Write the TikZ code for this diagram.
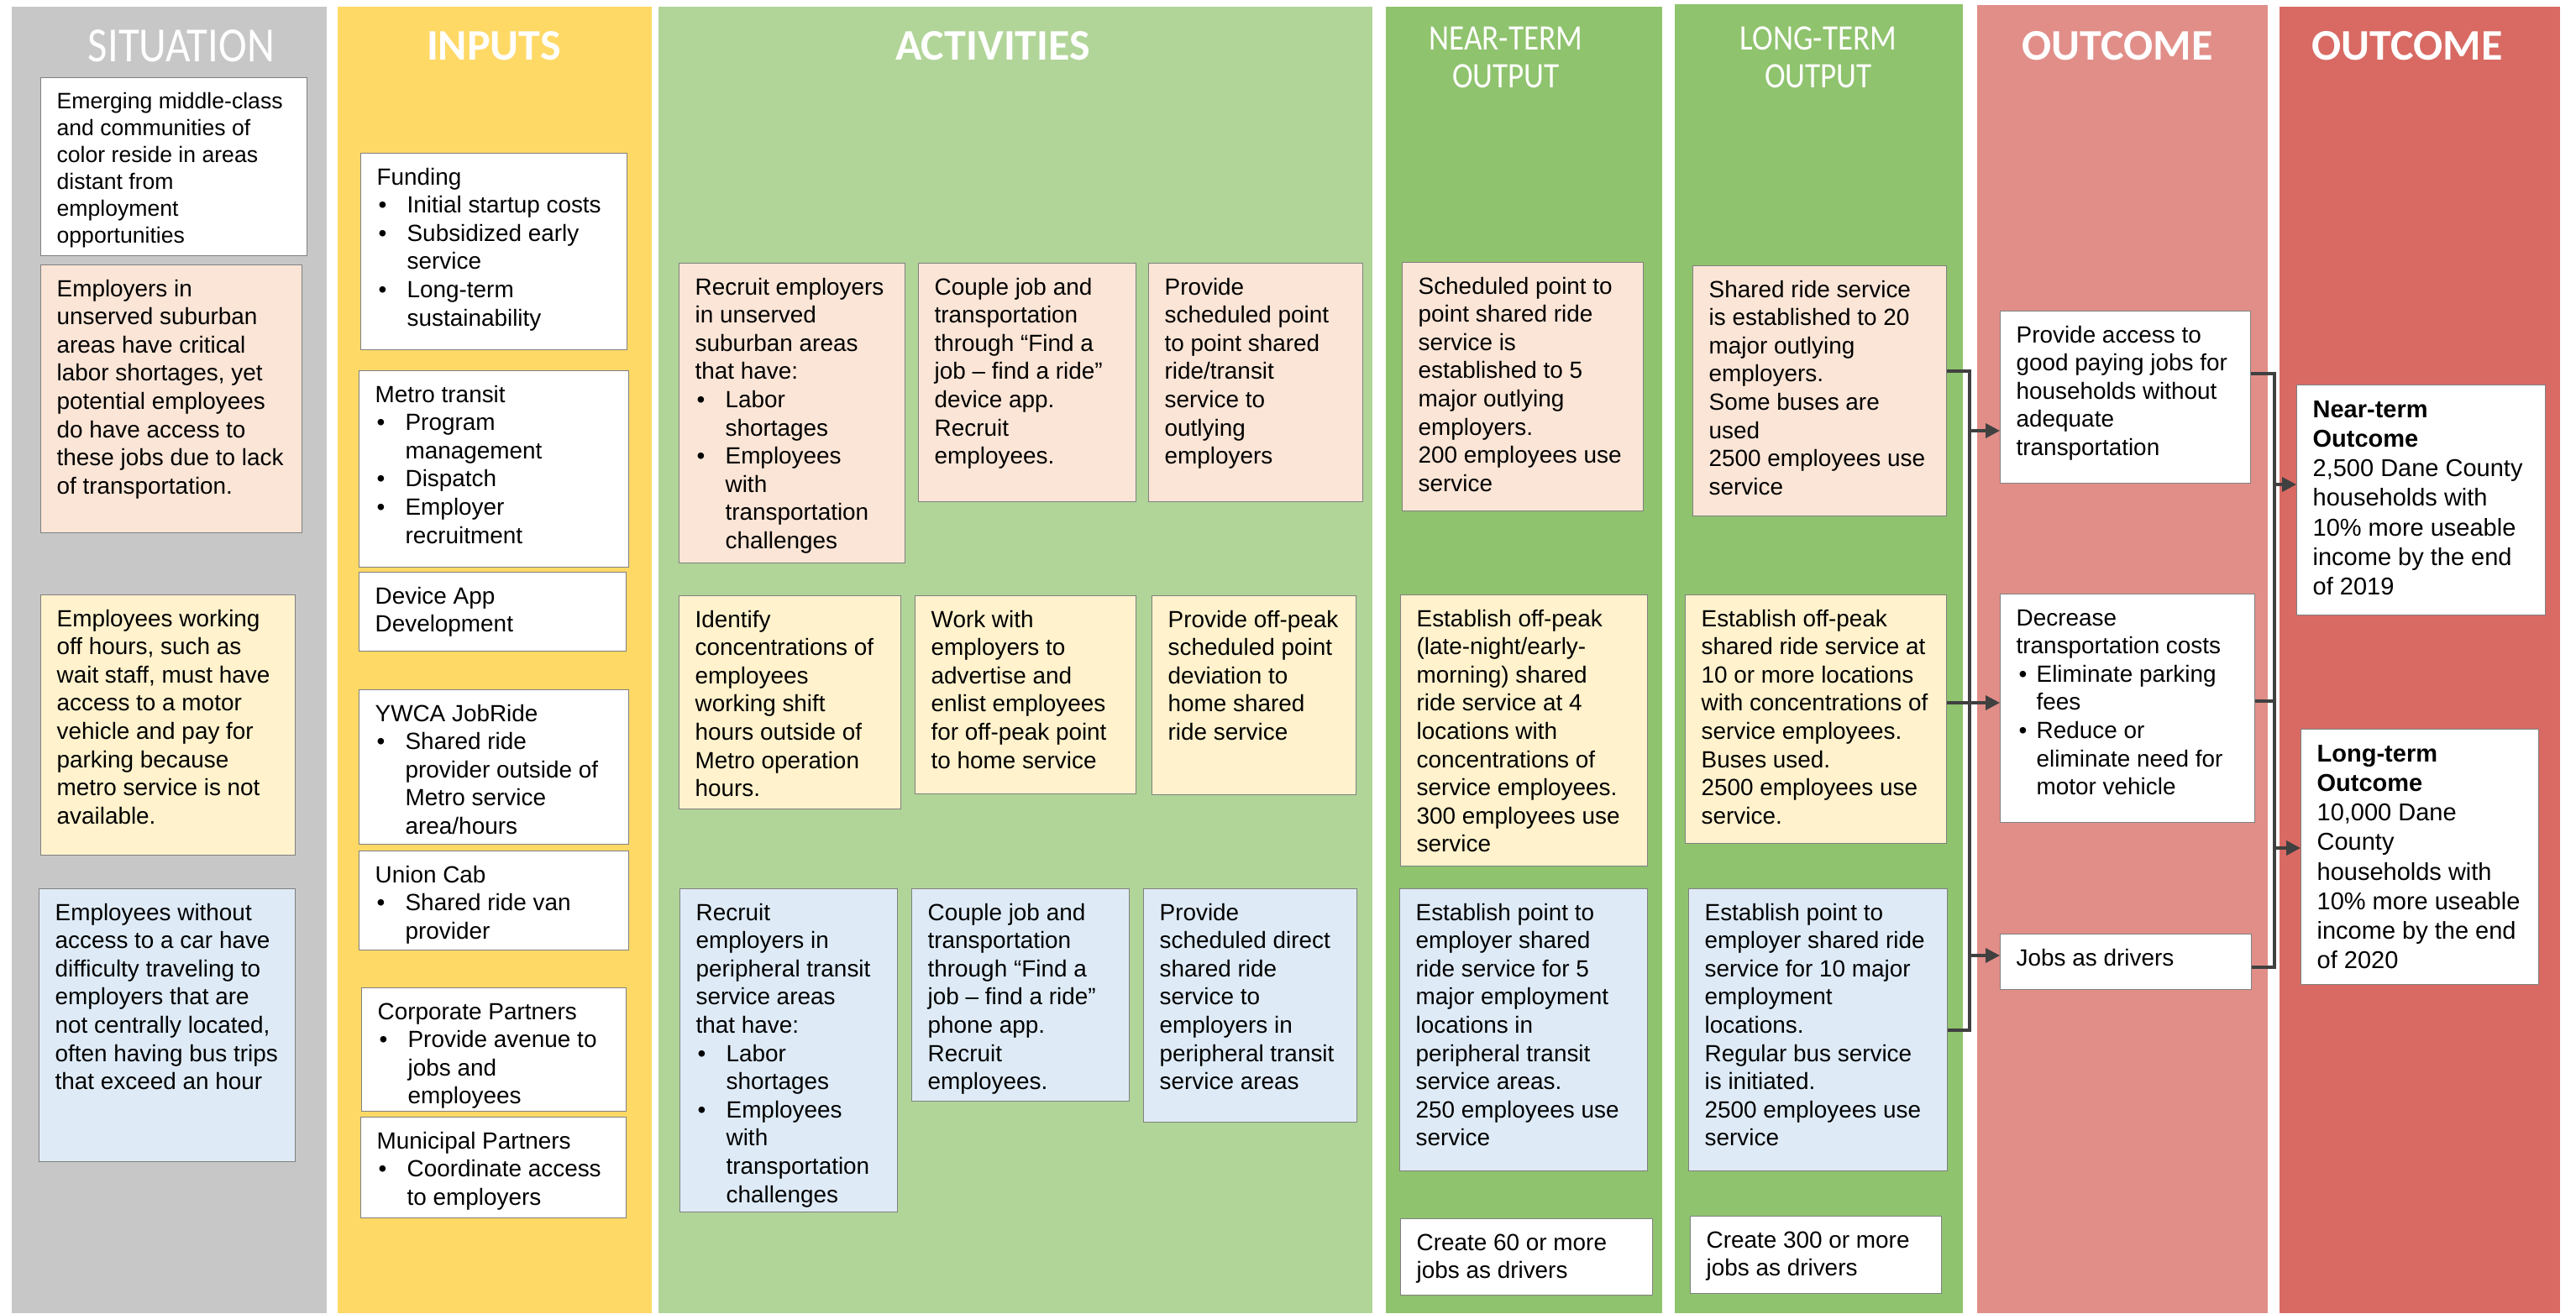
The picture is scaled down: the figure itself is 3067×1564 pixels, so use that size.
\documentclass[tikz,border=0pt]{standalone}
\usepackage{fontspec}
\setmainfont{Liberation Sans}
\newfontfamily\ttlfont{Carlito}
\newfontfamily\condfont{Carlito}[FakeStretch=0.87]
\usetikzlibrary{arrows.meta}
\definecolor{colgray}{RGB}{199,199,199}
\definecolor{colyel}{RGB}{255,217,102}
\definecolor{colact}{RGB}{177,213,152}
\definecolor{colout}{RGB}{143,195,110}
\definecolor{coloca}{RGB}{225,142,137}
\definecolor{colocb}{RGB}{216,106,99}
\definecolor{peach}{RGB}{251,229,214}
\definecolor{ltyel}{RGB}{255,242,204}
\definecolor{ltblue}{RGB}{222,235,247}
\definecolor{boxline}{RGB}{128,128,128}
\definecolor{linegray}{RGB}{64,64,64}
\newcommand{\bodyfont}{\fontsize{27.9}{33.6}\selectfont}
\newcommand{\sitfont}{\fontsize{26.6}{32}\selectfont}
\newcommand{\bigfont}{\fontsize{29}{35.2}\selectfont}
\newcommand{\bu}[1]{\makebox[36pt][l]{\hspace{2pt}\textbullet}#1}
\newcommand{\cnt}[1]{\hspace*{36pt}#1}
\newcommand{\bux}[1]{\makebox[24pt][l]{\hspace{3pt}\textbullet}#1}
\newcommand{\cntx}[1]{\hspace*{24pt}#1}
\newcommand{\Bx}[7]{%
  \pgfmathsetmacro{\bw}{#5-#3-38}%
  \pgfmathsetmacro{\bh}{#6-#4-28}%
  \node[bx,#2] (#1) at (#3,#4) {\parbox[t][\bh pt][t]{\bw pt}{\begin{tabular}[t]{@{}l@{}}#7\end{tabular}}};%
}
\tikzset{
  bx/.style={draw=boxline, line width=1.3pt, inner xsep=19pt, inner ysep=14pt, anchor=north west, font=\bodyfont, text=black},
  ttlb/.style={text=white, anchor=base, inner sep=0pt, font=\ttlfont\bfseries\fontsize{52}{56}\selectfont},
  ttlc/.style={text=white, anchor=base, inner sep=0pt, font=\condfont\fontsize{58.5}{60}\selectfont},
  ttls/.style={text=white, anchor=base, inner sep=0pt, font=\condfont\fontsize{42.7}{45}\selectfont},
  conn/.style={draw=linegray, line width=3.6pt},
  arr/.style={conn, -{Triangle[length=17pt,width=17pt]}},
}
\begin{document}
\begin{tikzpicture}[x=1pt,y=-1pt]
\useasboundingbox (0,0) rectangle (3067,1564);
\fill[white] (0,0) rectangle (3067,1564);
% columns
\fill[colgray] (14,8) rectangle (389,1564);
\fill[colyel] (402,8) rectangle (776,1564);
\fill[colact] (784,8) rectangle (1634,1564);
\fill[colout] (1650,8) rectangle (1979,1564);
\fill[colout] (1994,5) rectangle (2337,1564);
\fill[coloca] (2354,6) rectangle (2700,1564);
\fill[colocb] (2714,8) rectangle (3048,1564);
% titles
\node[ttlc] (tsit) at (216,73) {SITUATION};
\node[ttlb] (tin) at (588,71) {INPUTS};
\node[ttlb] (tact) at (1182,71) {ACTIVITIES};
\node[ttls] (tnear1) at (1793,59) {NEAR-TERM};
\node[ttls] (tnear2) at (1793,104) {OUTPUT};
\node[ttls] (tlong1) at (2165,59) {LONG-TERM};
\node[ttls] (tlong2) at (2165,104) {OUTPUT};
\node[ttlb] (toc1) at (2521,71) {OUTCOME};
\node[ttlb] (toc2) at (2866,71) {OUTCOME};
% situation
\Bx{S1}{fill=white,font=\sitfont}{48}{92}{365}{304}{Emerging middle-class\\and communities of\\color reside in areas\\distant from\\employment\\opportunities}
\Bx{S2}{fill=peach}{48}{315}{359}{634}{Employers in\\unserved suburban\\areas have critical\\labor shortages, yet\\potential employees\\do have access to\\these jobs due to lack\\of transportation.}
\Bx{S3}{fill=ltyel}{48}{708}{351}{1018}{Employees working\\off hours, such as\\wait staff, must have\\access to a motor\\vehicle and pay for\\parking because\\metro service is not\\available.}
\Bx{S4}{fill=ltblue}{46}{1058}{351}{1383}{Employees without\\access to a car have\\difficulty traveling to\\employers that are\\not centrally located,\\often having bus trips\\that exceed an hour}
% inputs
\Bx{I1}{fill=white}{429}{182}{746}{416}{Funding\\\bu{Initial startup costs}\\\bu{Subsidized early}\\\cnt{service}\\\bu{Long-term}\\\cnt{sustainability}}
\Bx{I2}{fill=white}{427}{441}{748}{675}{Metro transit\\\bu{Program}\\\cnt{management}\\\bu{Dispatch}\\\bu{Employer}\\\cnt{recruitment}}
\Bx{I3}{fill=white}{427}{681}{745}{775}{Device App\\Development}
\Bx{I4}{fill=white}{427}{821}{748}{1005}{YWCA JobRide\\\bu{Shared ride}\\\cnt{provider outside of}\\\cnt{Metro service}\\\cnt{area/hours}}
\Bx{I5}{fill=white}{427}{1013}{748}{1131}{Union Cab\\\bu{Shared ride van}\\\cnt{provider}}
\Bx{I6}{fill=white}{430}{1176}{745}{1323}{Corporate Partners\\\bu{Provide avenue to}\\\cnt{jobs and}\\\cnt{employees}}
\Bx{I7}{fill=white}{429}{1330}{745}{1450}{Municipal Partners\\\bu{Coordinate access}\\\cnt{to employers}}
% activities
\Bx{A1}{fill=peach}{808}{313}{1077}{670}{Recruit employers\\in unserved\\suburban areas\\that have:\\\bu{Labor}\\\cnt{shortages}\\\bu{Employees}\\\cnt{with}\\\cnt{transportation}\\\cnt{challenges}}
\Bx{A2}{fill=peach}{1093}{313}{1352}{597}{Couple job and\\transportation\\through “Find a\\job – find a ride”\\device app.\\Recruit\\employees.}
\Bx{A3}{fill=peach}{1367}{313}{1622}{597}{Provide\\scheduled point\\to point shared\\ride/transit\\service to\\outlying\\employers}
\Bx{A4}{fill=ltyel}{808}{709}{1072}{963}{Identify\\concentrations of\\employees\\working shift\\hours outside of\\Metro operation\\hours.}
\Bx{A5}{fill=ltyel}{1089}{709}{1352}{945}{Work with\\employers to\\advertise and\\enlist employees\\for off-peak point\\to home service}
\Bx{A6}{fill=ltyel}{1371}{709}{1614}{946}{Provide off-peak\\scheduled point\\deviation to\\home shared\\ride service}
\Bx{A7}{fill=ltblue}{809}{1058}{1068}{1443}{Recruit\\employers in\\peripheral transit\\service areas\\that have:\\\bu{Labor}\\\cnt{shortages}\\\bu{Employees}\\\cnt{with}\\\cnt{transportation}\\\cnt{challenges}}
\Bx{A8}{fill=ltblue}{1085}{1058}{1344}{1311}{Couple job and\\transportation\\through “Find a\\job – find a ride”\\phone app.\\Recruit\\employees.}
\Bx{A9}{fill=ltblue}{1361}{1058}{1615}{1336}{Provide\\scheduled direct\\shared ride\\service to\\employers in\\peripheral transit\\service areas}
% near-term output
\Bx{N1}{fill=peach}{1669}{312}{1956}{608}{Scheduled point to\\point shared ride\\service is\\established to 5\\major outlying\\employers.\\200 employees use\\service}
\Bx{N2}{fill=ltyel}{1667}{708}{1961}{1031}{Establish off-peak\\(late-night/early-\\morning) shared\\ride service at 4\\locations with\\concentrations of\\service employees.\\300 employees use\\service}
\Bx{N3}{fill=ltblue}{1666}{1058}{1961}{1394}{Establish point to\\employer shared\\ride service for 5\\major employment\\locations in\\peripheral transit\\service areas.\\250 employees use\\service}
\Bx{N4}{fill=white}{1667}{1451}{1967}{1542}{Create 60 or more\\jobs as drivers}
% long-term output
\Bx{L1}{fill=peach}{2015}{316}{2317}{614}{Shared ride service\\is established to 20\\major outlying\\employers.\\Some buses are\\used\\2500 employees use\\service}
\Bx{L2}{fill=ltyel}{2006}{708}{2317}{1004}{Establish off-peak\\shared ride service at\\10 or more locations\\with concentrations of\\service employees.\\Buses used.\\2500 employees use\\service.}
\Bx{L3}{fill=ltblue}{2010}{1058}{2318}{1394}{Establish point to\\employer shared ride\\service for 10 major\\employment\\locations.\\Regular bus service\\is initiated.\\2500 employees use\\service}
\Bx{L4}{fill=white}{2012}{1448}{2311}{1540}{Create 300 or more\\jobs as drivers}
% outcome 1
\Bx{O1}{fill=white}{2381}{370}{2679}{575}{Provide access to\\good paying jobs for\\households without\\adequate\\transportation}
\Bx{O2}{fill=white}{2381}{707}{2684}{979}{Decrease\\transportation costs\\\bux{Eliminate parking}\\\cntx{fees}\\\bux{Reduce or}\\\cntx{eliminate need for}\\\cntx{motor vehicle}}
\Bx{O3}{fill=white}{2381}{1112}{2680}{1178}{Jobs as drivers}
% outcome 2
\Bx{R1}{fill=white,font=\bigfont}{2734}{458}{3030}{732}{\textbf{Near-term}\\\textbf{Outcome}\\2,500 Dane County\\households with\\10\% more useable\\income by the end\\of 2019}
\Bx{R2}{fill=white,font=\bigfont}{2739}{868}{3022}{1172}{\textbf{Long-term}\\\textbf{Outcome}\\10,000 Dane\\County\\households with\\10\% more useable\\income by the end\\of 2020}
% connectors: long-term outputs to outcomes
\coordinate (k1t) at (2345,442);
\coordinate (k1b) at (2345,1227);
\coordinate (k1a) at (2345,513);
\coordinate (k1m) at (2345,837);
\coordinate (k1c) at (2345,1138);
\draw[conn] (L1.east |- k1t) -- (k1t) -- (k1b) -- (L3.east |- k1b);
\draw[arr] (k1a) -- (k1a -| O1.west);
\draw[arr] (L2.east |- k1m) -- (k1m -| O2.west);
\draw[arr] (k1c) -- (k1c -| O3.west);
% connectors: outcomes to final outcomes
\coordinate (k2t) at (2708,445);
\coordinate (k2b) at (2708,1152);
\coordinate (k2m) at (2708,835);
\coordinate (k2a) at (2708,577);
\coordinate (k2c) at (2708,1010);
\draw[conn] (O1.east |- k2t) -- (k2t) -- (k2b) -- (O3.east |- k2b);
\draw[conn] (O2.east |- k2m) -- (k2m);
\draw[arr] (k2a) -- (k2a -| R1.west);
\draw[arr] (k2c) -- (k2c -| R2.west);
\end{tikzpicture}
\end{document}
